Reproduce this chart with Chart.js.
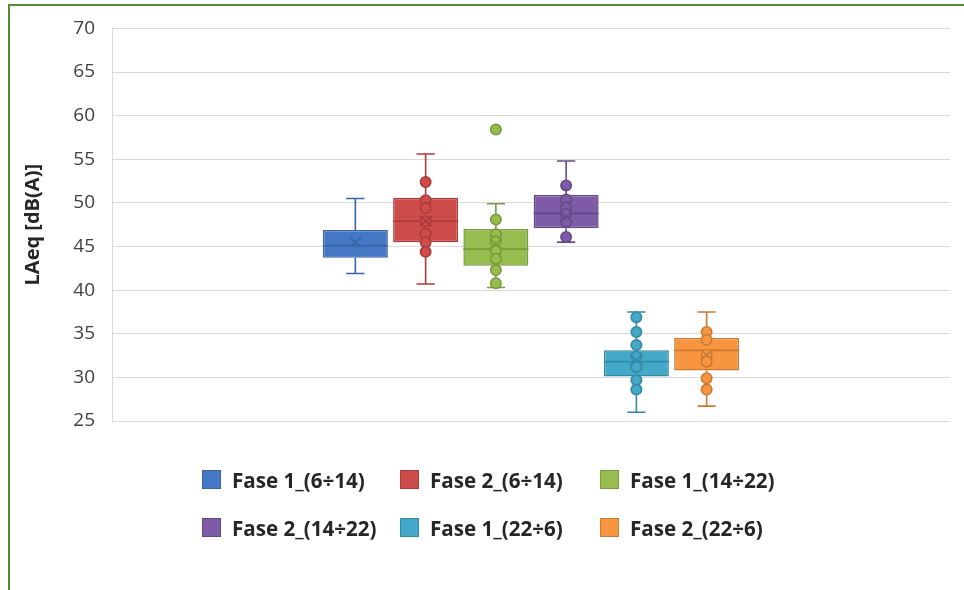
<!DOCTYPE html>
<html>
<head>
<meta charset="utf-8">
<script src="https://cdn.jsdelivr.net/npm/chart.js@4/dist/chart.umd.min.js"></script>
<style>
  html, body { margin: 0; padding: 0; background: #fff; overflow: hidden; }
  #frame { position: absolute; left: 8px; top: 4px; width: 1000px; height: 640px; border: 2px solid #558b2f; }
  #chart { position: absolute; left: 0; top: 0; }
  #legend { position: absolute; left: 202px; top: 470px; display: grid; grid-template-columns: 198px 200px 200px; row-gap: 29px; }
  .item { display: flex; align-items: center; height: 19px; font: 700 20.6px 'Open Sans', sans-serif; color: #262626; white-space: nowrap; }
  .swatch { width: 19px; height: 19px; box-sizing: border-box; border: 1px solid; margin-right: 11px; }
</style>
</head>
<body>
<div id="frame"></div>
<canvas id="chart" width="964" height="590"></canvas>
<div id="legend"></div>
<script>
const series = ['Fase 1_(6÷14)', 'Fase 2_(6÷14)', 'Fase 1_(14÷22)', 'Fase 2_(14÷22)', 'Fase 1_(22÷6)', 'Fase 2_(22÷6)'];
const fills = ['#4478c4', '#cd4b48', '#97bd4f', '#7d5ba6', '#44a8c8', '#f79540'];
const edges = ['#3765a5', '#a93c3a', '#7a9a3e', '#654a88', '#3489a3', '#cc7a33'];

// box statistics per series
const whiskerMin = [41.9, 40.7, 40.3, 45.5, 26.0, 26.7];
const q1 = [43.7, 45.5, 42.8, 47.1, 30.1, 30.8];
const median = [45.1, 47.9, 44.7, 48.8, 31.8, 33.1];
const q3 = [46.9, 50.6, 47.0, 50.9, 33.1, 34.5];
const whiskerMax = [50.5, 55.6, 49.9, 54.8, 37.5, 37.5];
const mean = [45.5, 47.9, 45.3, 48.4, 32.0, 32.6];

// individual readings shown as dots
const points = [
  [],
  [52.4, 50.3, 49.4, 47.9, 46.5, 45.5, 44.4],
  [58.4, 48.1, 46.4, 45.6, 44.5, 43.6, 42.3, 40.8],
  [52.0, 50.4, 49.5, 48.7, 47.8, 46.1],
  [36.9, 35.2, 33.7, 32.4, 31.2, 29.7, 28.6],
  [35.2, 34.3, 32.6, 31.8, 29.9, 28.6]
];

const yTicks = { min: 25, max: 70, step: 5 };

// whiskers, median, mean and dots on top of the floating bars
const boxPlot = {
  id: 'boxPlot',
  afterDatasetsDraw(chart) {
    const ctx = chart.ctx;
    const y = chart.scales.y;
    chart.data.datasets.forEach((ds, i) => {
      const bar = chart.getDatasetMeta(i).data[0];
      const x = bar.x, w = bar.width, cap = w * 0.14;
      const left = x - w / 2, right = x + w / 2;
      ctx.save();
      ctx.strokeStyle = edges[i];
      ctx.lineWidth = 1.6;
      ctx.beginPath();
      ctx.moveTo(x, y.getPixelForValue(q3[i]));
      ctx.lineTo(x, y.getPixelForValue(whiskerMax[i]));
      ctx.moveTo(x - cap, y.getPixelForValue(whiskerMax[i]));
      ctx.lineTo(x + cap, y.getPixelForValue(whiskerMax[i]));
      ctx.moveTo(x, y.getPixelForValue(q1[i]));
      ctx.lineTo(x, y.getPixelForValue(whiskerMin[i]));
      ctx.moveTo(x - cap, y.getPixelForValue(whiskerMin[i]));
      ctx.lineTo(x + cap, y.getPixelForValue(whiskerMin[i]));
      // median
      ctx.moveTo(left, y.getPixelForValue(median[i]));
      ctx.lineTo(right, y.getPixelForValue(median[i]));
      ctx.stroke();

      // readings
      points[i].forEach(v => {
        ctx.beginPath();
        ctx.arc(x, y.getPixelForValue(v), 5.2, 0, Math.PI * 2);
        ctx.fillStyle = fills[i];
        ctx.fill();
        ctx.stroke();
      });

      // mean marker
      const my = y.getPixelForValue(mean[i]);
      ctx.beginPath();
      ctx.moveTo(x - 6, my - 5); ctx.lineTo(x + 6, my + 5);
      ctx.moveTo(x + 6, my - 5); ctx.lineTo(x - 6, my + 5);
      ctx.stroke();
      ctx.restore();
    });
  }
};

const datasets = series.map((name, i) => ({
  label: name,
  data: [[q1[i], q3[i]]],
  backgroundColor: fills[i],
  borderColor: edges[i],
  borderWidth: 1.5,
  borderSkipped: false
}));

new Chart(document.getElementById('chart'), {
  type: 'bar',
  data: { labels: [''], datasets },
  options: {
    responsive: false,
    animation: false,
    layout: { padding: { left: 0, right: 14, top: 28, bottom: 169 } },
    datasets: { bar: { categoryPercentage: 0.503, barPercentage: 0.925 } },
    plugins: { legend: { display: false }, tooltip: { enabled: false } },
    scales: {
      x: { display: false },
      y: {
        min: yTicks.min,
        max: yTicks.max,
        ticks: { stepSize: yTicks.step, padding: 17, color: '#404040', font: { family: 'Open Sans', size: 19 } },
        grid: { color: '#d9d9d9', drawTicks: false },
        border: { display: true, color: '#d9d9d9' },
        title: {
          display: true,
          text: 'LAeq [dB(A)]',
          color: '#262626',
          font: { family: 'Open Sans', size: 20, weight: 'bold' },
          padding: { top: 21, bottom: 0 }
        },
        afterFit(scale) { scale.width = 112; }
      }
    }
  },
  plugins: [boxPlot]
});

// legend in two rows of three
const legend = document.getElementById('legend');
series.forEach((name, i) => {
  const item = document.createElement('div');
  item.className = 'item';
  const sw = document.createElement('span');
  sw.className = 'swatch';
  sw.style.background = fills[i];
  sw.style.borderColor = edges[i];
  item.appendChild(sw);
  item.appendChild(document.createTextNode(name));
  legend.appendChild(item);
});
</script>
</body>
</html>
